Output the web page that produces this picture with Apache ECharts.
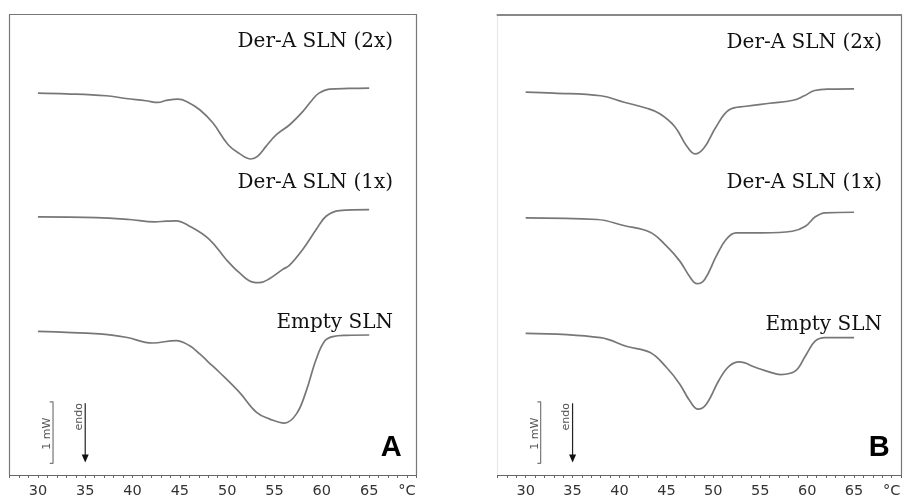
<!DOCTYPE html>
<html>
<head>
<meta charset="utf-8">
<script src="https://cdn.jsdelivr.net/npm/echarts@6/dist/echarts.min.js"></script>
<style>html,body{margin:0;padding:0;background:#fff}#c{width:904px;height:499px}</style>
</head>
<body>
<div id="c"></div>
<script>
// Temperature (°C) and heat flow (mW, offset traces)
const tA2x = [30.0, 33.0, 37.2, 39.3, 41.4, 42.7, 43.55, 44.8, 45.7, 47.1, 48.5, 50.1, 51.3, 52.5, 53.2, 54.1, 55.2, 56.6, 58.0, 59.0, 59.7, 60.8, 62.9, 65.0];
const vA2x = [6.222, 6.211, 6.179, 6.135, 6.098, 6.070, 6.103, 6.125, 6.087, 5.951, 5.734, 5.382, 5.236, 5.149, 5.192, 5.355, 5.545, 5.707, 5.924, 6.114, 6.222, 6.287, 6.298, 6.303];
const tA1x = [30.0, 36.17, 39.68, 42.32, 43.56, 44.61, 46.02, 48.13, 49.89, 51.28, 52.70, 53.41, 54.46, 55.87, 56.57, 57.98, 59.40, 60.45, 61.85, 65.0];
const vA1x = [4.206, 4.195, 4.163, 4.125, 4.135, 4.141, 4.054, 3.837, 3.512, 3.296, 3.143, 3.133, 3.198, 3.350, 3.415, 3.675, 4.000, 4.216, 4.309, 4.325];
const tAempty = [30.0, 36.5, 39.3, 42.1, 44.6, 46.0, 47.1, 47.95, 49.2, 51.3, 53.1, 54.5, 56.05, 57.3, 58.3, 59.4, 60.3, 61.15, 62.6, 65.0];
const vAempty = [2.341, 2.298, 2.244, 2.151, 2.190, 2.109, 1.973, 1.849, 1.670, 1.346, 1.020, 0.911, 0.846, 0.992, 1.346, 1.886, 2.184, 2.255, 2.276, 2.281];

const tB2x = [30, 33, 38, 40.5, 42.9, 44.3, 45.9, 47.1, 48.05, 49.0, 50.3, 51.7, 53.5, 56, 58.5, 59.7, 60.8, 62.5, 65];
const vB2x = [6.239, 6.223, 6.179, 6.073, 5.976, 5.886, 5.675, 5.374, 5.231, 5.328, 5.675, 5.951, 6.008, 6.057, 6.106, 6.179, 6.265, 6.288, 6.293];
const tB1x = [30, 37.63, 40.45, 43.27, 45.02, 46.43, 47.49, 48.26, 49.08, 50.31, 51.36, 52.42, 55.24, 58.41, 59.81, 60.87, 61.92, 65.0];
const vB1x = [4.190, 4.163, 4.065, 3.956, 3.728, 3.485, 3.231, 3.117, 3.187, 3.566, 3.837, 3.946, 3.946, 3.972, 4.054, 4.207, 4.271, 4.281];
const tBempty = [30, 37.99, 40.8, 43.27, 45.02, 46.43, 47.49, 48.37, 49.25, 50.66, 51.72, 52.78, 54.53, 55.94, 57.17, 58.75, 59.81, 60.87, 61.92, 65.0];
const vBempty = [2.309, 2.239, 2.093, 1.995, 1.751, 1.480, 1.208, 1.073, 1.154, 1.561, 1.777, 1.842, 1.751, 1.680, 1.637, 1.696, 1.940, 2.184, 2.239, 2.239];

const tickLabels = [30, 35, 40, 45, 50, 55, 60, 65];
const unitLabel = '°C';
const unitAt = 69;
const traceNames = ['Der-A SLN (2x)', 'Der-A SLN (1x)', 'Empty SLN'];
const panelNames = ['A', 'B'];
// scale bar (1 mW) and endo arrow, in data units
const scaleBarX = 31.6, scaleBarLow = 0.19, scaleBarHigh = 1.19;
const endoX = 35, endoTop = 1.17, endoTip = 0.27;

const zip = (t, v) => t.map((x, i) => [x, v[i]]);

const chart = echarts.init(document.getElementById('c'), null, {renderer: 'canvas'});

const grids = [
  {left: 9.5, top: 14.7, width: 407, height: 461.3},
  {left: 497.5, top: 14.7, width: 406, height: 461.3}
];

function xAxes(g) {
  return [
    {
      type: 'value', gridIndex: g, min: 27, max: 70, interval: 1, position: 'bottom',
      axisLine: {show: true, onZero: false, lineStyle: {color: '#666', width: 1}},
      axisTick: {show: true, length: 3, lineStyle: {color: '#666'}},
      splitLine: {show: false},
      axisLabel: {
        show: true, margin: 9, color: '#333', fontFamily: 'DejaVu Sans', fontSize: 14.5,
        showMinLabel: true, showMaxLabel: true,
        formatter: v => tickLabels.indexOf(v) >= 0 ? String(v) : (v === unitAt ? unitLabel : '')
      }
    },
    {
      type: 'value', gridIndex: g, min: 27, max: 70, position: 'top',
      axisLine: {show: true, onZero: false, lineStyle: {color: g === 0 ? '#777' : '#888', width: g === 0 ? 1.2 : 2}},
      axisTick: {show: false}, axisLabel: {show: false}, splitLine: {show: false}
    }
  ];
}
function yAxes(g) {
  return [
    {
      type: 'value', gridIndex: g, min: 0, max: 7.5, position: 'left',
      axisLine: {show: true, onZero: false, lineStyle: {color: g === 0 ? '#777' : '#e8e8e8', width: 1.2}},
      axisTick: {show: false}, axisLabel: {show: false}, splitLine: {show: false}
    },
    {
      type: 'value', gridIndex: g, min: 0, max: 7.5, position: 'right',
      axisLine: {show: true, onZero: false, lineStyle: {color: '#777', width: 1.2}},
      axisTick: {show: false}, axisLabel: {show: false}, splitLine: {show: false}
    }
  ];
}

const traceStyle = {color: '#777', width: 1.7};
function trace(g, data) {
  return {
    type: 'line', xAxisIndex: g * 2, yAxisIndex: g * 2, data: data,
    smooth: 0.4, symbol: 'none', lineStyle: traceStyle, silent: true, z: 3
  };
}
function scaleBar(g) {
  return {
    type: 'line', xAxisIndex: g * 2, yAxisIndex: g * 2, symbol: 'none', silent: true,
    lineStyle: {color: '#777', width: 1.2},
    data: [[scaleBarX - 0.35, scaleBarHigh], [scaleBarX, scaleBarHigh], [scaleBarX, scaleBarLow], [scaleBarX - 0.35, scaleBarLow]]
  };
}
function endoArrow(g) {
  return {
    type: 'line', xAxisIndex: g * 2, yAxisIndex: g * 2, silent: true,
    lineStyle: {color: '#222', width: 1.2},
    itemStyle: {color: '#111'},
    data: [
      {value: [endoX, endoTop], symbol: 'none'},
      {value: [endoX, endoTip], symbol: 'triangle', symbolSize: [7, 8], symbolRotate: 180}
    ]
  };
}

chart.setOption({
  animation: false,
  backgroundColor: '#fff',
  grid: grids,
  xAxis: [...xAxes(0), ...xAxes(1)],
  yAxis: [...yAxes(0), ...yAxes(1)],
  series: [
    trace(0, zip(tA2x, vA2x)), trace(0, zip(tA1x, vA1x)), trace(0, zip(tAempty, vAempty)),
    trace(1, zip(tB2x, vB2x)), trace(1, zip(tB1x, vB1x)), trace(1, zip(tBempty, vBempty)),
    scaleBar(0), scaleBar(1), endoArrow(0), endoArrow(1)
  ]
});

// text annotations
const labelRight = [393, 882];
const labelBase = [[47.7, 189, 329], [48.3, 188.5, 331]];
const serif = {fontFamily: 'DejaVu Serif', fontSize: 20, fill: '#111'};
const graphics = [];
for (let g = 0; g < 2; g++) {
  traceNames.forEach((name, i) => {
    graphics.push({
      type: 'text', z: 10, silent: true,
      style: Object.assign({text: name, x: labelRight[g], y: labelBase[g][i] + 4, align: 'right', verticalAlign: 'bottom'}, serif)
    });
  });
  graphics.push({
    type: 'text', z: 10, silent: true,
    style: {text: panelNames[g], x: [401.7, 889.7][g], y: 459.3 + 3, align: 'right', verticalAlign: 'bottom',
      fontFamily: 'Liberation Sans', fontWeight: 'bold', fontSize: 29, fill: '#000'}
  });
  const sb = chart.convertToPixel({gridIndex: g}, [scaleBarX, (scaleBarLow + scaleBarHigh) / 2]);
  graphics.push({
    type: 'text', z: 10, silent: true, x: sb[0] - 5.5, y: sb[1] + 1, rotation: Math.PI / 2,
    style: {text: '1 mW', x: 0, y: 0, align: 'center', verticalAlign: 'middle',
      fontFamily: 'DejaVu Sans', fontSize: 11, fill: '#555'}
  });
  const ea = chart.convertToPixel({gridIndex: g}, [endoX, 0.95]);
  graphics.push({
    type: 'text', z: 10, silent: true, x: ea[0] - 6, y: ea[1], rotation: Math.PI / 2,
    style: {text: 'endo', x: 0, y: 0, align: 'center', verticalAlign: 'middle',
      fontFamily: 'DejaVu Sans', fontSize: 11, fill: '#555'}
  });
}
chart.setOption({graphic: graphics});
</script>
</body>
</html>
